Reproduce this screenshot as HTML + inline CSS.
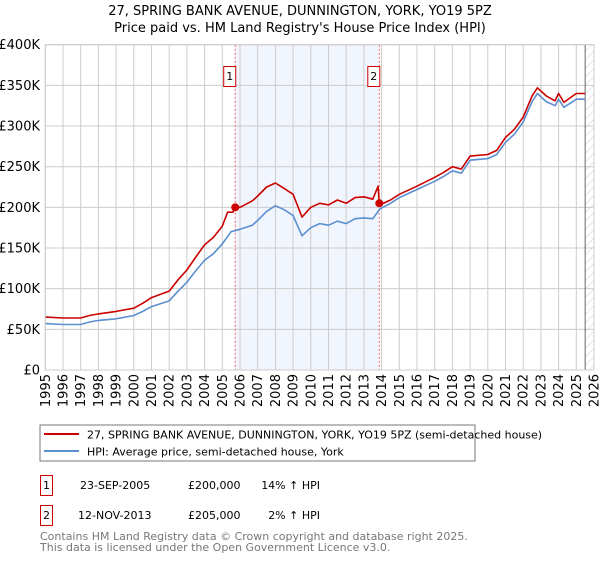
<!DOCTYPE html>
<html><head><meta charset="utf-8"><style>
body{margin:0;background:#fff;width:600px;height:560px;overflow:hidden;font-family:"DejaVu Sans","Liberation Sans",sans-serif;}
svg text{font-family:"DejaVu Sans","Liberation Sans",sans-serif;}
</style></head><body>
<svg id="c" width="600" height="560">
<defs><pattern id="hatch" width="6" height="6" patternUnits="userSpaceOnUse" patternTransform="rotate(45)"><line x1="0" y1="0" x2="0" y2="6" stroke="#ccc" stroke-width="1"/></pattern></defs>
<text x="300" y="15" text-anchor="middle" font-size="13">27, SPRING BANK AVENUE, DUNNINGTON, YORK, YO19 5PZ</text>
<text x="300" y="32" text-anchor="middle" font-size="13">Price paid vs. HM Land Registry's House Price Index (HPI)</text>
<g id="plot"></g>
<rect x="40" y="425" width="435" height="36" fill="#fff" stroke="#777"/>
<line x1="44" y1="434" x2="79" y2="434" stroke="#cc0000" stroke-width="2"/>
<text x="87" y="438.5" font-size="11">27, SPRING BANK AVENUE, DUNNINGTON, YORK, YO19 5PZ (semi-detached house)</text>
<line x1="44" y1="451" x2="79" y2="451" stroke="#5b8fd0" stroke-width="2"/>
<text x="87" y="455.5" font-size="11">HPI: Average price, semi-detached house, York</text>
<rect x="40.5" y="475.5" width="12" height="20" fill="#fff" stroke="#cc0000"/>
<text x="46.5" y="489" text-anchor="middle" font-size="11">1</text>
<text x="80" y="489" font-size="11">23-SEP-2005</text>
<text x="188" y="489" font-size="11">£200,000</text>
<text x="320" y="489" text-anchor="end" font-size="11">14% ↑ HPI</text>
<rect x="40.5" y="505.5" width="12" height="20" fill="#fff" stroke="#cc0000"/>
<text x="46.5" y="519" text-anchor="middle" font-size="11">2</text>
<text x="78" y="519" font-size="11">12-NOV-2013</text>
<text x="188" y="519" font-size="11">£205,000</text>
<text x="320" y="519" text-anchor="end" font-size="11">2% ↑ HPI</text>
<text x="40" y="540" font-size="11" fill="#777">Contains HM Land Registry data © Crown copyright and database right 2025.</text>
<text x="40" y="551" font-size="11" fill="#777">This data is licensed under the Open Government Licence v3.0.</text>
</svg>
<script>
const hpiYears=[1995,1996,1997,1997.5,1998,1999,2000,2000.5,2001,2002,2002.5,2003,2003.5,2004,2004.5,2005,2005.5,2006,2006.7,2007,2007.5,2008,2008.5,2009,2009.3,2009.5,2010,2010.5,2011,2011.5,2012,2012.5,2013,2013.5,2013.9,2014.5,2015,2016,2017,2017.5,2018,2018.5,2019,2020,2020.5,2021,2021.5,2022,2022.5,2022.8,2023.3,2023.8,2024,2024.3,2024.8,2025,2025.5];
const hpiValues=[57,56,56,59,61,63,67,72,78,85,97,108,122,135,143,155,170,173,178,184,195,202,197,190,175,165,175,180,178,183,180,186,187,186,198,205,212,222,232,238,245,242,258,260,265,280,290,305,330,340,330,325,333,323,330,333,333];
const priceYears=[1995,1996,1997,1997.5,1998,1999,2000,2000.5,2001,2002,2002.5,2003,2003.5,2004,2004.5,2005,2005.3,2005.6,2005.73,2006,2006.7,2007,2007.5,2008,2008.5,2009,2009.5,2010,2010.5,2011,2011.5,2012,2012.5,2013,2013.5,2013.8,2013.87,2014,2014.5,2015,2016,2017,2017.5,2018,2018.5,2019,2020,2020.5,2021,2021.5,2022,2022.5,2022.8,2023.3,2023.8,2024,2024.3,2024.8,2025,2025.5];
const priceValues=[65,64,64,67,69,72,76,82,89,97,111,123,139,154,163,177,194,194,200,200,208,214,225,230,223,216,188,200,205,203,209,205,212,213,210,226,205,204,209,216,226,237,243,250,247,263,265,270,286,296,311,337,347,337,331,340,329,337,340,340];
const yTicks=[0,50,100,150,200,250,300,350,400];
const yTickLabels=["£0","£50K","£100K","£150K","£200K","£250K","£300K","£350K","£400K"];
const xTicks=[1995,1996,1997,1998,1999,2000,2001,2002,2003,2004,2005,2006,2007,2008,2009,2010,2011,2012,2013,2014,2015,2016,2017,2018,2019,2020,2021,2022,2023,2024,2025,2026];
const saleYears=[2005.73,2013.87];
const saleValues=[200,205];
const saleLabels=["1","2"];
const dataEnd=2025.5;

const NS="http://www.w3.org/2000/svg";
const g=document.getElementById('plot');
const X0=45.3,X1=594,Y0=370,Y1=44.7;
const xs=y=>X0+(y-1995)/(2026-1995)*(X1-X0);
const ys=v=>Y0-v/400*(Y0-Y1);
function mk(t,a){const e=document.createElementNS(NS,t);for(const k in a)e.setAttribute(k,a[k]);g.appendChild(e);return e;}
let e;
e=mk('rect',{x:xs(saleYears[0]),y:Y1,width:xs(saleYears[1])-xs(saleYears[0]),height:Y0-Y1,fill:'#eef3fd',opacity:0.8});


e=mk('rect',{x:xs(dataEnd),y:Y1,width:X1-xs(dataEnd),height:Y0-Y1,fill:'url(#hatch)'});


yTicks.forEach((v,i)=>{
  e=mk('line',{x1:X0,x2:X1,y1:ys(v),y2:ys(v),stroke:'#ccc'});
  
  
  e=mk('text',{x:40,y:ys(v)+4.5,'text-anchor':'end','font-size':13});
  e.textContent=yTickLabels[i];
  
  
});
xTicks.forEach(t=>{
  e=mk('line',{x1:xs(t),x2:xs(t),y1:Y1,y2:Y0,stroke:'#ccc'});
  
  
  const x=xs(t)+4.5,y=374;
  e=mk('text',{x:x,y:y,'text-anchor':'end','font-size':13,transform:`rotate(-90 ${x} ${y})`});
  e.textContent=t;
  
  
});
e=mk('line',{x1:xs(dataEnd),x2:xs(dataEnd),y1:Y1,y2:Y0,stroke:'#666'});


saleYears.forEach((s,i)=>{
  e=mk('line',{x1:xs(s),x2:xs(s),y1:Y1,y2:Y0,stroke:'#e66','stroke-dasharray':'2,2'});
  
  
});
const pts=(xa,va)=>xa.map((y,i)=>xs(y).toFixed(1)+','+ys(va[i]).toFixed(1)).join(' ');
e=mk('polyline',{points:pts(hpiYears,hpiValues),fill:'none',stroke:'#5b8fd0','stroke-width':1.6,'stroke-linejoin':'round'});


e=mk('polyline',{points:pts(priceYears,priceValues),fill:'none',stroke:'#cc0000','stroke-width':1.6,'stroke-linejoin':'round'});


saleYears.forEach((s,i)=>{
  e=mk('circle',{cx:xs(s),cy:ys(saleValues[i]),r:4,fill:'#cc0000'});
  
  
  e=mk('rect',{x:xs(s)-11.5,y:66.5,width:12,height:20,fill:'#fff',stroke:'#cc0000'});
  
  
  e=mk('text',{x:xs(s)-5.5,y:80,'text-anchor':'middle','font-size':11});
  e.textContent=saleLabels[i];
  
  
});
e=mk('rect',{x:X0,y:Y1,width:X1-X0,height:Y0-Y1,fill:'none',stroke:'#ccc'});


</script>
</body></html>
